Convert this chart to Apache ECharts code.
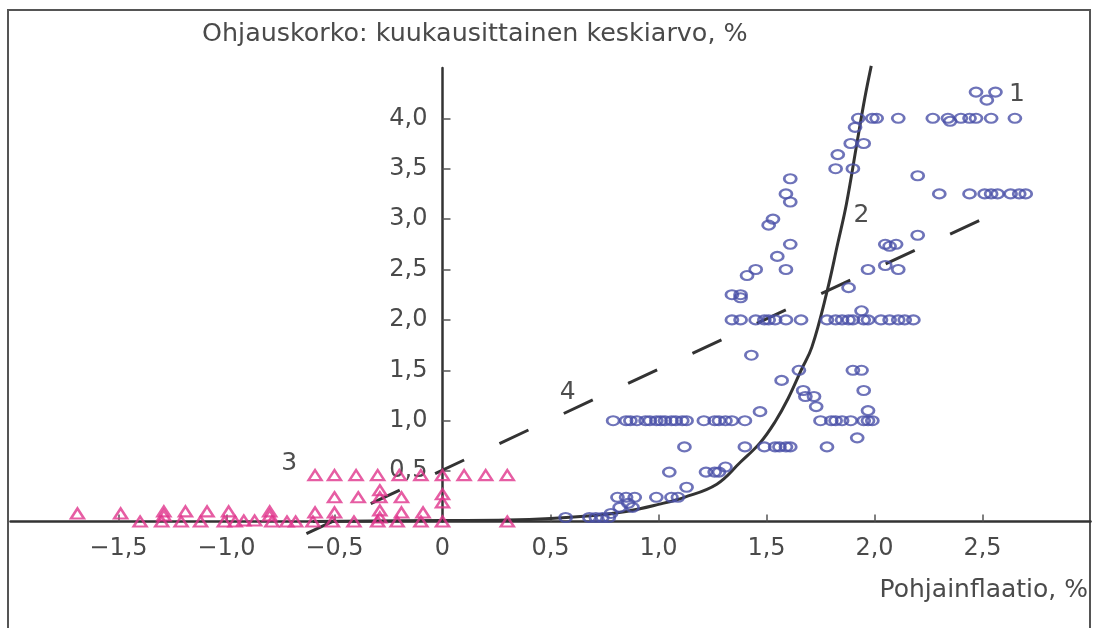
<!DOCTYPE html>
<html>
<head>
<meta charset="utf-8">
<script src="https://cdn.jsdelivr.net/npm/echarts@6/dist/echarts.min.js"></script>
<style>
html,body{margin:0;padding:0;background:#fff;}
#chart{width:1095px;height:628px;}
</style>
</head>
<body>
<div id="chart"></div>
<script>
// Tick labels
const xTickValues = [-1.5, -1, -0.5, 0, 0.5, 1, 1.5, 2, 2.5];
const yTickValues = [0.5, 1, 1.5, 2, 2.5, 3, 3.5, 4];

// Series 1: policy rate vs underlying inflation (circles)
const circlePoints = [
  [0.57,0.04],[0.68,0.04],[0.71,0.04],[0.74,0.04],[0.77,0.04],[0.78,0.08],
  [0.82,0.14],[0.86,0.18],[0.88,0.14],
  [0.81,0.24],[0.85,0.24],[0.89,0.24],[0.99,0.24],[1.06,0.24],[1.09,0.24],
  [1.13,0.34],
  [1.05,0.49],[1.22,0.49],[1.26,0.49],[1.28,0.49],[1.31,0.54],
  [1.12,0.74],[1.40,0.74],[1.49,0.74],[1.54,0.74],[1.56,0.74],[1.59,0.74],[1.61,0.74],[1.78,0.74],
  [1.92,0.83],
  [0.79,1],[0.85,1],[0.87,1],[0.90,1],[0.94,1],[0.96,1],[0.99,1],[1.01,1],[1.03,1],[1.06,1],[1.08,1],
  [1.11,1],[1.13,1],[1.21,1],[1.26,1],[1.28,1],[1.31,1],[1.34,1],[1.40,1],
  [1.75,1],[1.80,1],[1.82,1],[1.85,1],[1.89,1],[1.95,1],[1.97,1],[1.99,1],
  [1.47,1.09],[1.97,1.10],[1.95,1.30],
  [1.68,1.24],[1.72,1.24],[1.73,1.14],[1.67,1.30],
  [1.57,1.40],[1.65,1.50],[1.43,1.65],[1.90,1.50],[1.94,1.50],
  [1.34,2],[1.38,2],[1.45,2],[1.49,2],[1.51,2],[1.54,2],[1.59,2],[1.66,2],
  [1.78,2],[1.82,2],[1.85,2],[1.88,2],[1.90,2],[1.95,2],[1.97,2],[2.03,2],[2.07,2],[2.11,2],[2.14,2],[2.18,2],
  [1.94,2.09],[1.88,2.32],
  [1.34,2.25],[1.38,2.25],[1.38,2.22],
  [1.41,2.44],[1.45,2.50],[1.59,2.50],
  [1.55,2.63],[1.61,2.75],
  [1.51,2.94],[1.53,3.00],
  [1.59,3.25],[1.61,3.17],[1.61,3.40],
  [1.82,3.50],[1.90,3.50],[1.83,3.64],
  [1.89,3.75],[1.95,3.75],[1.91,3.91],
  [1.97,2.50],[2.05,2.54],[2.11,2.50],[2.05,2.75],[2.07,2.73],[2.10,2.75],[2.20,2.84],
  [2.20,3.43],
  [1.925,4],[1.99,4],[2.01,4],[2.11,4],[2.27,4],[2.34,4],[2.35,3.97],[2.40,4],[2.44,4],[2.47,4],[2.54,4],[2.65,4],
  [2.30,3.25],[2.44,3.25],[2.51,3.25],[2.54,3.25],[2.57,3.25],[2.63,3.25],[2.67,3.25],[2.70,3.25],
  [2.47,4.26],[2.56,4.26],[2.52,4.18]
];

// Series 3: triangles
const trianglePoints = [
  [-1.69,0.08],[-1.49,0.08],[-1.40,0],[-1.29,0.10],[-1.29,0.06],[-1.30,0],
  [-1.19,0.10],[-1.21,0],[-1.09,0.10],[-1.12,0],[-0.99,0.10],[-1.01,0],
  [-0.96,0],[-0.92,0.01],[-0.87,0.01],
  [-0.80,0.10],[-0.80,0.06],[-0.79,0],[-0.72,0],[-0.68,0],
  [-0.60,0],[-0.59,0.09],[-0.59,0.46],
  [-0.51,0],[-0.50,0.09],[-0.50,0.24],[-0.50,0.46],
  [-0.41,0],[-0.39,0.24],[-0.40,0.46],
  [-0.30,0],[-0.29,0.04],[-0.29,0.11],[-0.29,0.24],[-0.29,0.31],[-0.30,0.46],
  [-0.21,0],[-0.19,0.09],[-0.19,0.24],[-0.20,0.46],
  [-0.10,0],[-0.09,0.09],[-0.10,0.46],
  [0,0],[0,0.19],[0,0.27],[0,0.46],[0.10,0.46],[0.20,0.46],[0.30,0.46],[0.30,0]
];

// Curve 2 (solid)
const curvePoints = [
  [-0.6,0],[0,0.01],[0.3,0.015],[0.5,0.03],[0.7,0.06],[0.85,0.1],[1.0,0.17],
  [1.12,0.24],[1.27,0.37],[1.38,0.59],[1.47,0.78],[1.54,0.99],[1.6,1.22],
  [1.66,1.5],[1.71,1.73],[1.78,2.28],[1.83,2.76],[1.87,3.15],[1.92,3.77],[1.955,4.2],[1.985,4.52]
];

// Line 4 (dashed)
const linePoints = [[-0.63,-0.12],[1.52,2.03],[2.52,3.02]];

function fmt(v){
  if (v === 0) return '0';
  const s = Math.abs(v).toFixed(1).replace('.', ',');
  return (v < 0 ? '\u2212' : '') + s;
}

const TXT = '#4a4a4a';
const FONT = 'DejaVu Sans';
const X_MIN = -2, X_MAX = 3;
const GRID_LEFT = 10.5, GRID_RIGHT = 4.5;
const plotW = 1095 - GRID_LEFT - GRID_RIGHT;
// place the vertical axis at x = 0 (offset from grid's left edge)
const yAxisOffset = -((0 - X_MIN) / (X_MAX - X_MIN)) * plotW;

const chart = echarts.init(document.getElementById('chart'), null, {renderer:'canvas'});
chart.setOption({
  animation: false,
  backgroundColor: '#fff',
  grid: {left: GRID_LEFT, right: GRID_RIGHT, top: 67.9, bottom: 106.5, containLabel: false, outerBoundsMode: 'none'},
  xAxis: {
    type: 'value', min: X_MIN, max: X_MAX, interval: 0.5,
    splitLine: {show: false},
    axisLine: {show: true, onZero: false, lineStyle: {color: '#333', width: 2.5}},
    axisTick: {show: true, inside: true, length: 7, lineStyle: {color: '#555', width: 1.5}, customValues: xTickValues.filter(v => v !== 0)},
    axisLabel: {show: true, customValues: xTickValues, formatter: fmt, color: TXT, fontFamily: FONT, fontSize: 24, margin: 15}
  },
  yAxis: {
    type: 'value', min: 0, max: 4.5, interval: 0.5, position: 'left', offset: yAxisOffset,
    splitLine: {show: false},
    axisLine: {show: true, onZero: false, lineStyle: {color: '#333', width: 2.5}},
    axisTick: {show: true, inside: true, length: 8, lineStyle: {color: '#555', width: 1.5}, customValues: yTickValues},
    axisLabel: {show: true, customValues: yTickValues, formatter: fmt, color: TXT, fontFamily: FONT, fontSize: 24, margin: 15}
  },
  graphic: [
    {type: 'rect', shape: {x: 8, y: 10, width: 1082, height: 640}, style: {fill: 'none', stroke: '#555', lineWidth: 2}, z: 0, silent: true},
    {type: 'text', left: 202, top: 22, style: {text: 'Ohjauskorko: kuukausittainen keskiarvo, %', fill: TXT, font: '25.4px "DejaVu Sans"'}},
    {type: 'text', right: 7, top: 578, style: {text: 'Pohjainflaatio, %', fill: TXT, font: '25px "DejaVu Sans"'}}
  ],
  series: [
    {
      name: 'curve2', type: 'line', data: curvePoints, smooth: 0.4, showSymbol: false, clip: false,
      lineStyle: {color: '#333', width: 3}, z: 3
    },
    {
      name: 'line4', type: 'line', data: linePoints, showSymbol: false, clip: false,
      lineStyle: {color: '#333', width: 3, type: [32, 39]}, z: 3
    },
    {
      name: 'circles', type: 'scatter', data: circlePoints,
      symbol: 'path://M0,4 A6,4 0 1,0 12,4 A6,4 0 1,0 0,4 Z', symbolSize: [12, 9],
      itemStyle: {color: 'rgba(255,255,255,0)', borderColor: '#4a50a8', borderWidth: 2.4}, z: 4
    },
    {
      name: 'triangles', type: 'scatter', data: trianglePoints,
      symbol: 'triangle', symbolSize: [13, 10],
      itemStyle: {color: 'rgba(255,255,255,0)', borderColor: '#e0358c', borderWidth: 2.4}, z: 4
    },
    {
      name: 'notes', type: 'scatter', symbolSize: 0, silent: true, z: 5,
      label: {show: true, position: 'inside', formatter: p => p.name, color: '#222', fontFamily: FONT, fontSize: 25},
      data: [
        {name: '1', value: [2.66, 4.24]},
        {name: '2', value: [1.94, 3.04]},
        {name: '3', value: [-0.71, 0.58]},
        {name: '4', value: [0.58, 1.28]}
      ]
    }
  ]
});
</script>
</body>
</html>
